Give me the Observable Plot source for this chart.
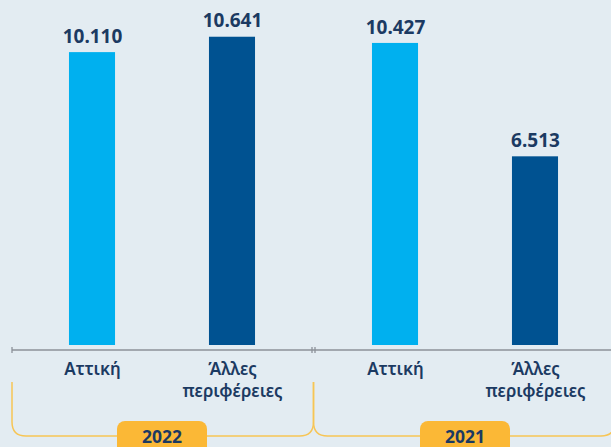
<!DOCTYPE html>
<html>
<head>
<meta charset="utf-8">
<script src="https://cdn.jsdelivr.net/npm/d3@7"></script>
<script src="https://cdn.jsdelivr.net/npm/@observablehq/plot@0.6"></script>
<style>
  html, body { margin: 0; padding: 0; background: #e3ecf2; }
  #chart { width: 611px; height: 447px; overflow: hidden; }
</style>
</head>
<body>
<div id="chart"></div>
<script>
// ---- data ----
const years = ["2022", "2021"];
const regions = ["Αττική", "Άλλες περιφέρειες"];
const regionLabels = ["Αττική", "Άλλες\nπεριφέρειες"];
const values2022 = [10110, 10641];
const values2021 = [10427, 6513];

// ---- styling ----
const bg = "#e3ecf2";
const barColors = ["#00b0ef", "#005291"];
const navy = "#1b3a62";
const axisGrey = "#8d9299";
const braceColor = "#f7c555";
const boxColor = "#fbb836";
const font = "'Noto Sans', 'Open Sans', sans-serif";

const valuesByYear = {"2022": values2022, "2021": values2021};
const table = years.flatMap(year =>
  regions.map((region, i) => ({year, region, label: regionLabels[i], value: valuesByYear[year][i]}))
);

const fmt = d3.formatLocale({decimal: ",", thousands: ".", grouping: [3], currency: ["", "€"]}).format(",d");

const W = 611, H = 447;
const plot = Plot.plot({
  width: W,
  height: H,
  marginLeft: 12,
  marginRight: 0,
  marginTop: 0,
  marginBottom: 102,
  style: {background: bg, fontFamily: font, overflow: "visible"},
  fx: {domain: years, range: [12, 615], paddingInner: 0.01, paddingOuter: 0, axis: null, label: null},
  x: {domain: regions, paddingInner: 0.671, paddingOuter: 0.407, axis: null, label: null, round: false},
  y: {domain: [0, 11909], axis: null, label: null},
  color: {domain: regions, range: barColors},
  marks: [
    Plot.barY(table, {fx: "year", x: "region", y: "value", fill: "region"}),
    Plot.text(table, {
      fx: "year", x: "region", y: "value", text: d => fmt(d.value),
      dy: -16, fontSize: 19, fontWeight: 700, fill: navy
    }),
    Plot.text(table, {
      fx: "year", x: "region", text: "label", frameAnchor: "bottom",
      lineAnchor: "top", dy: 14, lineHeight: 1.3, fontSize: 17, fontWeight: 600, fill: navy
    })
  ]
});

document.getElementById("chart").appendChild(plot);

// ---- decorations from the plot's own scales ----
const fx = plot.scale("fx");
const ys = plot.scale("y");
const bw = fx.bandwidth;
const y0 = ys.apply(0);
const svg = d3.select(plot);
const g = svg.append("g");

const starts = years.map(y => fx.apply(y));
const ends = starts.map(s => s + bw);
const axisY = y0 + 5;

// axis line
g.append("line")
  .attr("x1", starts[0]).attr("x2", ends[1])
  .attr("y1", axisY).attr("y2", axisY)
  .attr("stroke", axisGrey).attr("stroke-width", 1.5);
// ticks at facet edges
[starts[0], ends[0], starts[1], ends[1]].forEach(x => {
  g.append("line")
    .attr("x1", x).attr("x2", x)
    .attr("y1", axisY - 3).attr("y2", axisY + 3)
    .attr("stroke", axisGrey).attr("stroke-width", 1.3);
});

// braces
const mid = (ends[0] + starts[1]) / 2;
const braceEdges = [[starts[0], mid], [mid, ends[1]]];
const braceTop = y0 + 37, braceBottom = y0 + 91, r = 14;
braceEdges.forEach(([l, rr]) => {
  const p = d3.path();
  p.moveTo(l, braceTop);
  p.lineTo(l, braceBottom - r);
  p.quadraticCurveTo(l, braceBottom, l + r, braceBottom);
  p.lineTo(rr - r, braceBottom);
  p.quadraticCurveTo(rr, braceBottom, rr, braceBottom - r);
  p.lineTo(rr, braceTop);
  g.append("path").attr("d", p.toString())
    .attr("fill", "none").attr("stroke", braceColor).attr("stroke-width", 1.5);
});

// year boxes
years.forEach((year, i) => {
  const cx = (starts[i] + ends[i]) / 2;
  g.append("rect")
    .attr("x", cx - 45).attr("y", y0 + 76)
    .attr("width", 90).attr("height", 40)
    .attr("rx", 8).attr("fill", boxColor);
  g.append("text")
    .attr("x", cx).attr("y", y0 + 97.5)
    .attr("text-anchor", "middle")
    .attr("font-family", font).attr("font-size", 17.5).attr("font-weight", 700)
    .attr("fill", navy).text(year);
});
</script>
</body>
</html>
